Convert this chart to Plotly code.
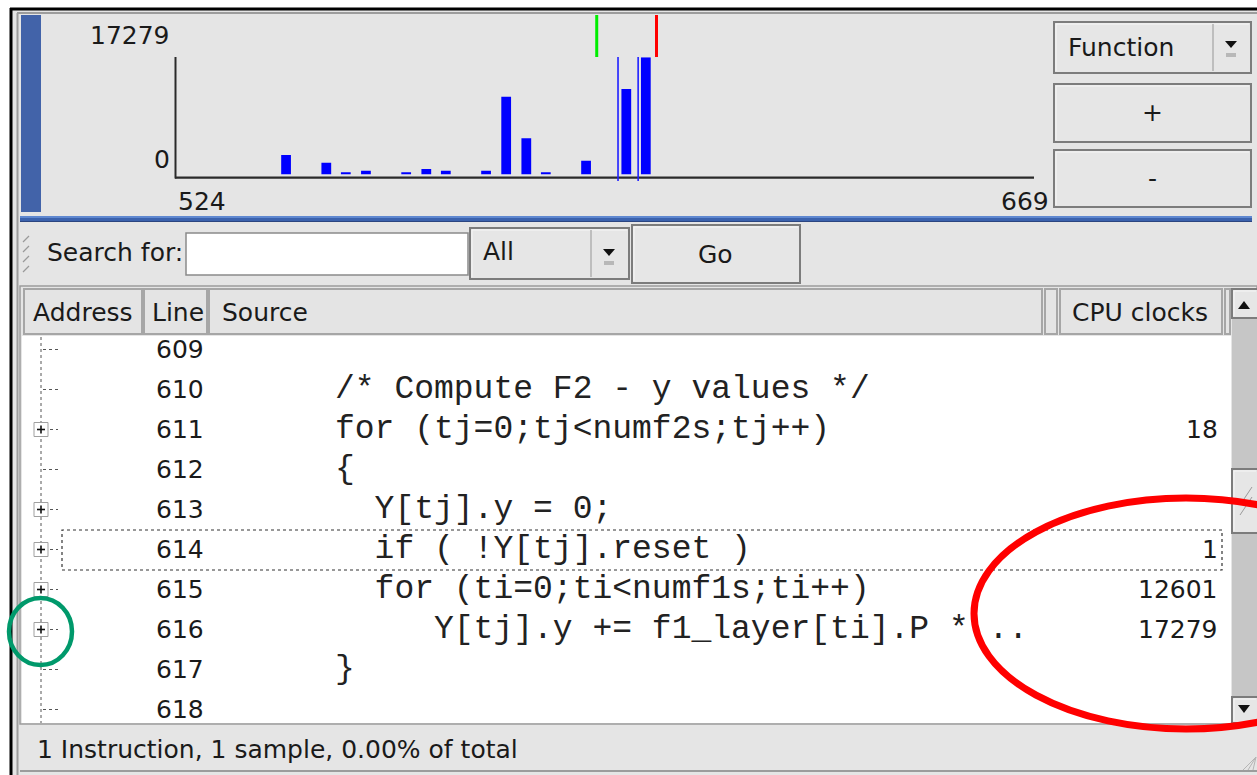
import plotly.graph_objects as go

W, H = 1257, 775

# ---------------- data ----------------
x_min, x_max = 524, 669
y_max = 17279
bin_x = [542.6, 549.4, 552.7, 556.1, 562.9, 566.3, 569.6, 576.4, 579.8, 583.2, 586.5, 593.3, 600.1, 603.4]
bin_clocks = [2880, 1740, 320, 560, 320, 810, 560, 560, 11470, 5340, 320, 2035, 12601, 17279]
bar_width = 1.65
sel_start, sel_end = 595.1, 605.2          # green / red range markers
cursor_lines = [598.7, 602.1]              # thin blue lines

line_numbers = [609, 610, 611, 612, 613, 614, 615, 616, 617, 618]
source_lines = ["", "/* Compute F2 - y values */", "for (tj=0;tj<numf2s;tj++)", "{",
                "  Y[tj].y = 0;", "  if ( !Y[tj].reset )", "  for (ti=0;ti<numf1s;ti++)",
                "     Y[tj].y += f1_layer[ti].P * ..", "}", ""]
cpu_clocks = ["", "", "18", "", "", "1", "12601", "17279", "", ""]
expandable = [False, False, True, False, True, True, True, True, False, False]
header_labels = ["Address", "Line", "Source", "CPU clocks"]
status_text = "1 Instruction, 1 sample, 0.00% of total"

UI = "DejaVu Sans"
MONO = "Liberation Mono, Courier New, monospace"


def px(x):
    return x / W


def py(y):
    return 1 - y / H


shapes = []
annots = []


def rect(x0, y0, x1, y1, fill=None, line=None, lw=0, layer="below", dash=None):
    d = dict(type="rect", xref="paper", yref="paper", x0=px(x0), x1=px(x1), y0=py(y1), y1=py(y0),
             layer=layer, line=dict(width=lw, color=line or "rgba(0,0,0,0)"))
    if dash:
        d["line"]["dash"] = dash
    if fill:
        d["fillcolor"] = fill
    shapes.append(d)


def seg(x0, y0, x1, y1, color, lw=1, layer="below", dash=None):
    d = dict(type="line", xref="paper", yref="paper", x0=px(x0), x1=px(x1), y0=py(y0), y1=py(y1),
             layer=layer, line=dict(width=lw, color=color))
    if dash:
        d["line"]["dash"] = dash
    shapes.append(d)


def text(x, y, s, size=25, color="#1a1a1a", family=UI, xa="left", ya="middle"):
    annots.append(dict(x=px(x), y=py(y), xref="paper", yref="paper", text=s, showarrow=False,
                       xanchor=xa, yanchor=ya, font=dict(size=size, color=color, family=family)))


def button(x0, y0, x1, y1):
    rect(x0, y0, x1, y1, fill="#e6e6e6", line="#7c7c7c", lw=2)
    seg(x0 + 2, y0 + 2, x1 - 2, y0 + 2, "#f6f6f6", 1)
    seg(x0 + 2, y0 + 2, x0 + 2, y1 - 2, "#f6f6f6", 1)


GRAY = "#e5e5e5"
# window background + borders
rect(12, 10, W, H, fill=GRAY)
seg(11, 8, 11, H, "#000000", 3)
seg(10, 9, W, 9, "#000000", 3)
seg(17.5, 13, 17.5, H, "#9c9c9c", 2)
seg(17, 13, W, 13, "#9c9c9c", 2)

# ---------------- top histogram panel ----------------
rect(20, 14, W, 212, fill=GRAY)
rect(21, 15, 41, 212, fill="#4263a9")
# separator
rect(20, 216, 1252, 222, fill="#3b62ad")
seg(20, 217, 1252, 217, "#6d96dc", 1.5)
seg(20, 221.5, 1252, 221.5, "#2b4580", 1.2)

# axes lines
seg(175.5, 57, 175.5, 178.5, "#2a2a2a", 2)
seg(175, 177.7, 1034, 177.7, "#2a2a2a", 2.2)

# range markers (data x, pixel y)
for xv, col in [(sel_start, "#00ee00"), (sel_end, "#ff0000")]:
    shapes.append(dict(type="line", xref="x", yref="paper", x0=xv, x1=xv, y0=py(57), y1=py(15),
                       line=dict(color=col, width=3), layer="above"))
for xv in cursor_lines:
    shapes.append(dict(type="line", xref="x", yref="paper", x0=xv, x1=xv, y0=py(181), y1=py(57),
                       line=dict(color="#1f1fff", width=1.6), layer="above"))

text(172, 35, f"{y_max}", xa="right")
text(172, 160, "0", xa="right")
text(176, 202, f"{x_min}", xa="left")
text(1051, 202, f"{x_max}", xa="right")

# right buttons
button(1054, 22, 1251, 73)
seg(1213, 24, 1213, 71, "#b0b0b0", 1.5)
text(1066, 47, "Function")
shapes.append(dict(type="path", xref="paper", yref="paper", layer="above",
                   path=f"M {px(1225)} {py(41)} L {px(1237)} {py(41)} L {px(1231)} {py(48)} Z",
                   fillcolor="#111111", line=dict(width=0)))
rect(1226, 53, 1236, 57, fill="#b8b8b8", layer="above")
button(1054, 84, 1251, 142)
text(1152, 112, "+", xa="center")
button(1054, 150, 1251, 207)
text(1152, 178, "-", xa="center")

# ---------------- search row ----------------
for k in range(4):
    yy = 236 + k * 10
    seg(23, yy + 6, 29, yy, "#9a9a9a", 1.2)
text(45, 253, "Search for:")
rect(186, 233, 468, 275, fill="#ffffff", line="#8a8a8a", lw=1.5)
button(470, 228, 629, 279)
seg(591, 230, 591, 277, "#b0b0b0", 1.5)
text(481, 251, "All")
shapes.append(dict(type="path", xref="paper", yref="paper", layer="above",
                   path=f"M {px(603)} {py(249)} L {px(615)} {py(249)} L {px(609)} {py(256)} Z",
                   fillcolor="#111111", line=dict(width=0)))
rect(604, 261, 614, 265, fill="#b8b8b8", layer="above")
button(632, 225, 800, 283)
text(716, 254, "Go", xa="center")

# ---------------- table ----------------
rect(20, 286, 1257, 724, fill=GRAY, line="#9c9c9c", lw=1.5)
rect(22, 336, 1231, 723, fill="#ffffff")
hdr_cells = [(24, 142), (144, 207), (209, 1042), (1045, 1057), (1060, 1222), (1225, 1230)]
for x0, x1 in hdr_cells:
    rect(x0, 289, x1, 334, fill="#e4e4e4", line="#a6a6a6", lw=2)
text(83, 312, header_labels[0], xa="center")
text(178, 312, header_labels[1], xa="center")
text(220, 312, header_labels[2])
text(1140, 312, header_labels[3], xa="center")

# scrollbar
rect(1232, 288, 1257, 724, fill="#c6c6c6")
button(1232, 289, 1258, 318)
shapes.append(dict(type="path", xref="paper", yref="paper", layer="above",
                   path=f"M {px(1238)} {py(309)} L {px(1250)} {py(309)} L {px(1244)} {py(301)} Z",
                   fillcolor="#111111", line=dict(width=0)))
button(1232, 469, 1258, 533)
seg(1240, 505, 1252, 487, "#9a9a9a", 1)
seg(1240, 515, 1252, 497, "#9a9a9a", 1)
button(1232, 697, 1258, 723)
shapes.append(dict(type="path", xref="paper", yref="paper", layer="above",
                   path=f"M {px(1238)} {py(705)} L {px(1250)} {py(705)} L {px(1244)} {py(713)} Z",
                   fillcolor="#111111", line=dict(width=0)))

# tree line
seg(41, 337, 41, 723, "#555555", 1, dash="dot")
row0, pitch = 349.5, 40
for i, (ln, src, cpu, exp) in enumerate(zip(line_numbers, source_lines, cpu_clocks, expandable)):
    cy = row0 + pitch * i
    if exp:
        rect(34, cy - 7, 48, cy + 7, fill="#ffffff", line="#a0a0a0", lw=1)
        seg(37, cy, 45, cy, "#111111", 1.6)
        seg(41, cy - 4, 41, cy + 4, "#111111", 1.6)
        seg(50, cy, 58, cy, "#555555", 1, dash="dot")
    else:
        seg(43, cy, 58, cy, "#555555", 1, dash="dot")
    text(180, cy, str(ln), xa="center")
    if src:
        text(333, cy, src.replace(" ", "\u00a0"), size=33, family=MONO, color="#222222")
    if cpu:
        text(1220, cy, cpu, xa="right")

# focus rectangle on row 614
rect(62, 530, 1222, 570, line="#333333", lw=1.2, dash="dot", layer="above")

# status bar
seg(20, 771, W, 771, "#9c9c9c", 2)
text(35, 749, status_text)
for k in range(3):
    seg(1243 + k * 5, 770, 1256, 757, "#b5b5b5", 1)

# highlight annotations
shapes.append(dict(type="circle", xref="paper", yref="paper", x0=px(974), x1=px(1398),
                   y0=py(729), y1=py(498), line=dict(color="#ff0000", width=7), layer="above"))
shapes.append(dict(type="circle", xref="paper", yref="paper", x0=px(9), x1=px(72),
                   y0=py(665), y1=py(598), line=dict(color="#00996b", width=4.5), layer="above"))

# ---------------- histogram bars ----------------
fig = go.Figure()
fig.add_trace(go.Bar(x=bin_x, y=bin_clocks, width=bar_width, marker=dict(color="#0000ff", line=dict(width=0)),
                     hoverinfo="x+y", showlegend=False))

fig.update_layout(
    width=W, height=H, margin=dict(l=0, r=0, t=0, b=0),
    paper_bgcolor="#ffffff", plot_bgcolor="rgba(0,0,0,0)",
    xaxis=dict(domain=[px(176), px(1034)], range=[x_min, x_max], showgrid=False, zeroline=False,
               showticklabels=False, showline=False, ticks="", fixedrange=True),
    yaxis=dict(domain=[py(174.5), py(57.3)], range=[0, y_max], showgrid=False, zeroline=False,
               showticklabels=False, showline=False, ticks="", fixedrange=True),
    shapes=shapes, annotations=annots, showlegend=False,
)

fig.write_html("out.html", config={"displayModeBar": False},
               post_script="document.body.style.margin='0px';document.body.style.overflow='hidden';")
